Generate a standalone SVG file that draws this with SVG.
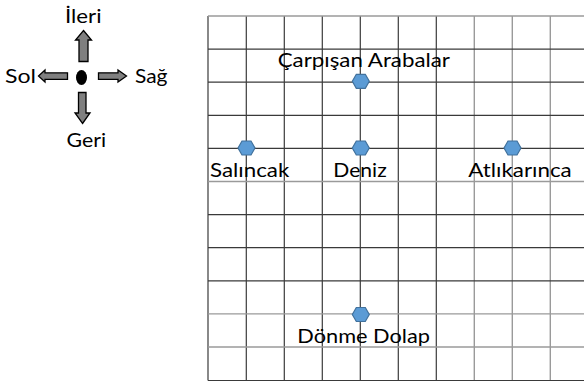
<svg xmlns="http://www.w3.org/2000/svg" width="584" height="387" viewBox="0 0 584 387">
<style>
text{font-family:Lato,"Noto Sans","Liberation Sans",sans-serif;font-size:20px;fill:#000}
.g{stroke:#3a3a3a;stroke-width:1.2}
.gl{stroke:#9a9a9a;stroke-width:1.4}
.arr{fill:#7f7f7f;stroke:#000;stroke-width:1.3;stroke-linejoin:miter}
.hex{fill:#5b9bd5;stroke:#41719c;stroke-width:1.2}
</style>
<defs>
<polygon id="hx" class="hex" points="-8.5,0 -4.5,-7 4.5,-7 8.5,0 4.5,7 -4.5,7"/>
</defs>
<rect width="584" height="387" fill="#fff"/>
<g id="compass">
<polygon class="arr" points="83.5,30.5 91.5,40 88,40 88,61.5 79,61.5 79,40 75.5,40"/>
<polygon class="arr" points="82.5,123.5 90,113 86,113 86,92.5 78.5,92.5 78.5,113 75,113"/>
<polygon class="arr" points="38.5,76 45,70 45,72.8 67.5,72.8 67.5,79.3 45,79.3 45,82"/>
<polygon class="arr" points="126.5,76 118,70 118,72.8 98.5,72.8 98.5,79.3 118,79.3 118,82"/>
<ellipse cx="81.5" cy="77.5" rx="5.5" ry="7.5" fill="#000"/>
<text x="65" y="23" textLength="36.5" lengthAdjust="spacingAndGlyphs">İleri</text>
<text x="5" y="83" textLength="31" lengthAdjust="spacingAndGlyphs">Sol</text>
<text x="135" y="83" textLength="32.5" lengthAdjust="spacingAndGlyphs">Sağ</text>
<text x="66.5" y="146.5" textLength="39.5" lengthAdjust="spacingAndGlyphs">Geri</text>
</g>
<g id="grid">
<line class="g" x1="208" y1="16" x2="208" y2="380.5"/>
<line class="g" x1="246.3" y1="16" x2="246.3" y2="380.5"/>
<line class="g" x1="284.3" y1="16" x2="284.3" y2="380.5"/>
<line class="g" x1="322.3" y1="16" x2="322.3" y2="380.5"/>
<line class="g" x1="360.3" y1="16" x2="360.3" y2="380.5"/>
<line class="g" x1="398.3" y1="16" x2="398.3" y2="380.5"/>
<line class="g" x1="436.3" y1="16" x2="436.3" y2="380.5"/>
<line class="gl" x1="474.3" y1="16" x2="474.3" y2="380.5"/>
<line class="gl" x1="512.3" y1="16" x2="512.3" y2="380.5"/>
<line class="gl" x1="550.3" y1="16" x2="550.3" y2="380.5"/>
<line class="gl" x1="208" y1="16" x2="584" y2="16"/>
<line class="g" x1="208" y1="49.1" x2="584" y2="49.1"/>
<line class="g" x1="208" y1="82.2" x2="584" y2="82.2"/>
<line class="g" x1="208" y1="115.3" x2="584" y2="115.3"/>
<line class="g" x1="208" y1="148.4" x2="584" y2="148.4"/>
<line class="gl" x1="208" y1="181.5" x2="584" y2="181.5"/>
<line class="g" x1="208" y1="214.6" x2="584" y2="214.6"/>
<line class="g" x1="208" y1="247.7" x2="584" y2="247.7"/>
<line class="g" x1="208" y1="280.8" x2="584" y2="280.8"/>
<line class="gl" x1="208" y1="313.9" x2="584" y2="313.9"/>
<line class="gl" x1="208" y1="347" x2="584" y2="347"/>
<line class="g" x1="208" y1="380.5" x2="584" y2="380.5"/>
</g>
<g id="carpisan-arabalar">
<use href="#hx" x="360.8" y="81.3"/>
<text x="277.7" y="67" textLength="172.3" lengthAdjust="spacingAndGlyphs">Çarpışan Arabalar</text>
</g>
<g id="salincak">
<use href="#hx" x="246.5" y="148"/>
<text x="210" y="177" textLength="79.3" lengthAdjust="spacingAndGlyphs">Salıncak</text>
</g>
<g id="deniz">
<use href="#hx" x="360.8" y="148"/>
<text x="333.3" y="177" textLength="53.4" lengthAdjust="spacingAndGlyphs">Deniz</text>
</g>
<g id="atlikarinca">
<use href="#hx" x="512.5" y="148"/>
<text x="468.3" y="177" textLength="103.4" lengthAdjust="spacingAndGlyphs">Atlıkarınca</text>
</g>
<g id="donme-dolap">
<use href="#hx" x="360.8" y="314.5"/>
<text x="297.3" y="343" textLength="132.7" lengthAdjust="spacingAndGlyphs">Dönme Dolap</text>
</g>
<g id="connectors"/>
</svg>
